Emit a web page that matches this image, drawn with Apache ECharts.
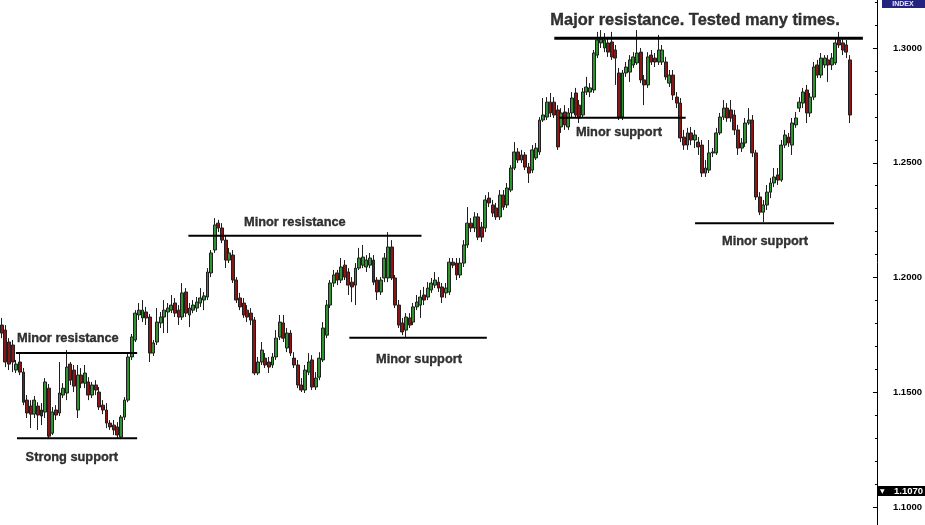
<!DOCTYPE html>
<html><head><meta charset="utf-8">
<script src="https://cdn.jsdelivr.net/npm/echarts@6/dist/echarts.min.js"></script>
<style>html,body{margin:0;padding:0;background:#fff}#c{width:925px;height:525px}</style>
</head><body><div id="c"></div>
<script>
const opens = [
1.1793,1.1771,1.1719,1.1706,1.1597,1.1632,1.1588,1.1466,1.1440,1.1405,
1.1440,1.1423,1.1414,1.1518,1.1322,1.1423,1.1410,1.1488,1.1497,1.1623,
1.1597,1.1423,1.1575,1.1540,1.1545,1.1488,1.1532,1.1501,1.1444,1.1423,
1.1366,1.1357,1.1349,1.1305,1.1392,1.1466,1.1654,1.1728,1.1837,1.1824,
1.1850,1.1828,1.1671,1.1719,1.1802,1.1828,1.1850,1.1858,1.1889,1.1858,
1.1828,1.1937,1.1837,1.1858,1.1867,1.1889,1.1902,1.1915,1.2020,1.2120,
1.2237,1.2216,1.2163,1.2076,1.2098,1.1989,1.1911,1.1889,1.1858,1.1845,
1.1815,1.1584,1.1632,1.1649,1.1632,1.1619,1.1654,1.1741,1.1802,1.1693,
1.1758,1.1649,1.1619,1.1532,1.1510,1.1588,1.1641,1.1523,1.1566,1.1641,
1.1749,1.1880,1.1976,1.2020,1.1989,1.2054,1.2024,1.1980,1.1967,1.2041,
1.2054,1.2046,1.2054,1.2076,1.1989,1.1937,1.1998,1.1998,1.2133,1.1998,
1.1880,1.1802,1.1771,1.1824,1.1806,1.1872,1.1880,1.1924,1.1915,1.1946,
1.1967,1.1980,1.1959,1.1933,1.1937,1.2067,1.2063,1.2011,1.2063,1.2142,
1.2237,1.2216,1.2264,1.2220,1.2216,1.2346,1.2316,1.2303,1.2264,1.2359,
1.2316,1.2381,1.2477,1.2547,1.2512,1.2534,1.2481,1.2468,1.2521,1.2547,
1.2686,1.2699,1.2764,1.2764,1.2730,1.2656,1.2721,1.2656,1.2717,1.2804,
1.2751,1.2708,1.2808,1.2808,1.2817,1.2969,1.3022,1.3000,1.3022,1.3026,
1.2991,1.2891,1.2699,1.2891,1.2895,1.2926,1.2935,1.2982,1.2861,1.2839,
1.2969,1.2956,1.2939,1.2939,1.2939,1.2847,1.2882,1.2786,1.2760,1.2612,
1.2577,1.2630,1.2599,1.2590,1.2577,1.2455,1.2468,1.2543,1.2543,1.2630,
1.2699,1.2738,1.2730,1.2708,1.2643,1.2564,1.2586,1.2673,1.2686,1.2543,
1.2351,1.2285,1.2316,1.2372,1.2412,1.2447,1.2425,1.2577,1.2612,1.2577,
1.2665,1.2738,1.2760,1.2817,1.2717,1.2786,1.2926,1.2882,1.2926,1.2948,
1.2926,1.2935,1.3035,1.3022,1.3013,1.2948];
const closes = [
1.1758,1.1632,1.1623,1.1632,1.1623,1.1588,1.1457,1.1410,1.1405,1.1466,
1.1401,1.1397,1.1545,1.1309,1.1414,1.1401,1.1497,1.1518,1.1610,1.1553,
1.1527,1.1575,1.1540,1.1584,1.1488,1.1532,1.1510,1.1436,1.1423,1.1366,
1.1349,1.1336,1.1314,1.1392,1.1466,1.1654,1.1741,1.1845,1.1858,1.1858,
1.1824,1.1671,1.1715,1.1806,1.1828,1.1858,1.1867,1.1880,1.1845,1.1828,
1.1933,1.1845,1.1867,1.1880,1.1893,1.1911,1.1920,1.2024,1.2107,1.2229,
1.2216,1.2163,1.2076,1.2107,1.1989,1.1902,1.1872,1.1837,1.1828,1.1815,
1.1584,1.1632,1.1684,1.1619,1.1610,1.1654,1.1736,1.1806,1.1736,1.1758,
1.1671,1.1619,1.1532,1.1510,1.1597,1.1632,1.1523,1.1562,1.1649,1.1780,
1.1880,1.1976,1.2011,1.1989,1.2046,1.2002,1.1967,1.1959,1.2041,1.2085,
1.2089,1.2076,1.2085,1.1980,1.1937,1.1989,1.2085,1.2133,1.1998,1.1880,
1.1793,1.1763,1.1828,1.1793,1.1872,1.1893,1.1915,1.1902,1.1954,1.1976,
1.1989,1.1954,1.1915,1.1954,1.2067,1.2054,1.2011,1.2063,1.2142,1.2237,
1.2216,1.2264,1.2176,1.2176,1.2338,1.2325,1.2281,1.2264,1.2359,1.2307,
1.2390,1.2477,1.2547,1.2512,1.2534,1.2481,1.2455,1.2556,1.2564,1.2686,
1.2708,1.2764,1.2717,1.2708,1.2569,1.2717,1.2665,1.2717,1.2782,1.2708,
1.2695,1.2808,1.2830,1.2826,1.2978,1.3035,1.3043,1.3035,1.2982,1.2961,
1.2956,1.2699,1.2891,1.2917,1.2948,1.2961,1.2978,1.2861,1.2839,1.2961,
1.2939,1.2939,1.2991,1.2991,1.2874,1.2882,1.2795,1.2760,1.2608,1.2577,
1.2630,1.2599,1.2621,1.2569,1.2455,1.2477,1.2543,1.2547,1.2630,1.2699,
1.2738,1.2695,1.2695,1.2643,1.2564,1.2586,1.2673,1.2686,1.2543,1.2351,
1.2285,1.2316,1.2372,1.2412,1.2438,1.2425,1.2577,1.2621,1.2586,1.2673,
1.2695,1.2764,1.2808,1.2717,1.2786,1.2917,1.2882,1.2956,1.2956,1.2926,
1.2956,1.3022,1.3013,1.2991,1.2982,1.2708];
const lows = [
1.1736,1.1610,1.1597,1.1588,1.1584,1.1575,1.1444,1.1388,1.1344,1.1388,
1.1336,1.1357,1.1388,1.1301,1.1314,1.1379,1.1397,1.1475,1.1466,1.1532,
1.1501,1.1388,1.1518,1.1518,1.1466,1.1475,1.1488,1.1423,1.1405,1.1344,
1.1336,1.1314,1.1301,1.1296,1.1379,1.1457,1.1641,1.1719,1.1815,1.1806,
1.1793,1.1632,1.1658,1.1706,1.1780,1.1758,1.1758,1.1845,1.1828,1.1793,
1.1815,1.1828,1.1784,1.1845,1.1850,1.1872,1.1858,1.1902,1.2002,1.2107,
1.2198,1.2150,1.2041,1.2063,1.1976,1.1889,1.1858,1.1824,1.1806,1.1793,
1.1575,1.1575,1.1619,1.1606,1.1584,1.1606,1.1641,1.1728,1.1719,1.1675,
1.1658,1.1606,1.1518,1.1501,1.1497,1.1575,1.1510,1.1510,1.1553,1.1632,
1.1736,1.1867,1.1959,1.1967,1.1976,1.1989,1.1924,1.1893,1.1880,1.2033,
1.2041,1.2024,1.2041,1.1967,1.1902,1.1924,1.1980,1.1980,1.1989,1.1867,
1.1780,1.1749,1.1741,1.1780,1.1793,1.1858,1.1824,1.1880,1.1902,1.1933,
1.1954,1.1937,1.1889,1.1911,1.1924,1.2041,1.1989,1.1998,1.2046,1.2129,
1.2198,1.2198,1.2163,1.2155,1.2198,1.2307,1.2264,1.2251,1.2251,1.2294,
1.2303,1.2372,1.2468,1.2499,1.2499,1.2468,1.2412,1.2455,1.2512,1.2534,
1.2678,1.2686,1.2699,1.2695,1.2556,1.2630,1.2643,1.2643,1.2699,1.2695,
1.2673,1.2695,1.2795,1.2786,1.2804,1.2956,1.3000,1.2982,1.2961,1.2948,
1.2839,1.2686,1.2686,1.2874,1.2852,1.2913,1.2926,1.2847,1.2751,1.2826,
1.2926,1.2917,1.2926,1.2926,1.2861,1.2830,1.2773,1.2738,1.2590,1.2556,
1.2556,1.2577,1.2564,1.2534,1.2438,1.2438,1.2455,1.2525,1.2534,1.2621,
1.2686,1.2678,1.2678,1.2621,1.2534,1.2547,1.2569,1.2665,1.2525,1.2338,
1.2272,1.2242,1.2294,1.2346,1.2394,1.2403,1.2417,1.2564,1.2569,1.2534,
1.2652,1.2721,1.2738,1.2673,1.2699,1.2773,1.2869,1.2869,1.2913,1.2852,
1.2904,1.2926,1.3000,1.2969,1.2956,1.2673];
const highs = [
1.1824,1.1793,1.1736,1.1728,1.1641,1.1671,1.1606,1.1488,1.1466,1.1484,
1.1457,1.1453,1.1562,1.1536,1.1436,1.1444,1.1632,1.1540,1.1684,1.1632,
1.1619,1.1619,1.1606,1.1619,1.1566,1.1545,1.1553,1.1523,1.1466,1.1453,
1.1379,1.1379,1.1370,1.1401,1.1479,1.1671,1.1754,1.1858,1.1889,1.1902,
1.1872,1.1841,1.1728,1.1867,1.1850,1.1902,1.1889,1.1924,1.1911,1.1880,
1.1976,1.1954,1.1889,1.1902,1.1915,1.1954,1.1937,1.2041,1.2120,1.2259,
1.2251,1.2237,1.2185,1.2129,1.2120,1.2002,1.1933,1.1911,1.1880,1.1867,
1.1828,1.1654,1.1719,1.1671,1.1654,1.1671,1.1771,1.1837,1.1837,1.1780,
1.1771,1.1675,1.1641,1.1562,1.1619,1.1671,1.1662,1.1588,1.1675,1.1806,
1.1902,1.1989,1.2033,1.2033,1.2085,1.2076,1.2041,1.2002,1.2063,1.2129,
1.2142,1.2098,1.2107,1.2098,1.2002,1.2002,1.2107,1.2198,1.2163,1.2011,
1.1902,1.1824,1.1845,1.1845,1.1889,1.1924,1.1946,1.1959,1.1980,1.1998,
1.2024,1.2002,1.1976,1.1976,1.2085,1.2085,1.2085,1.2085,1.2163,1.2307,
1.2259,1.2285,1.2281,1.2242,1.2359,1.2372,1.2338,1.2325,1.2381,1.2381,
1.2412,1.2490,1.2590,1.2564,1.2556,1.2547,1.2499,1.2577,1.2586,1.2699,
1.2782,1.2786,1.2804,1.2786,1.2751,1.2738,1.2751,1.2738,1.2808,1.2826,
1.2773,1.2826,1.2874,1.2847,1.2991,1.3070,1.3078,1.3065,1.3043,1.3070,
1.3013,1.2913,1.2904,1.2939,1.2969,1.2982,1.3078,1.3000,1.2882,1.2982,
1.2991,1.2978,1.3057,1.3013,1.2961,1.2904,1.2904,1.2808,1.2782,1.2643,
1.2652,1.2656,1.2643,1.2612,1.2599,1.2512,1.2599,1.2564,1.2652,1.2717,
1.2773,1.2760,1.2773,1.2730,1.2665,1.2608,1.2695,1.2738,1.2708,1.2556,
1.2372,1.2338,1.2403,1.2434,1.2477,1.2477,1.2599,1.2643,1.2630,1.2695,
1.2721,1.2786,1.2826,1.2839,1.2804,1.2939,1.2948,1.2978,1.2969,1.2969,
1.2978,1.3043,1.3070,1.3043,1.3035,1.2969];

const slotCount = 243;
const yMin = 1.0922, yMax = 1.3209;
const majorTicks = [1.10, 1.15, 1.20, 1.25, 1.30];
const minorTicks = [1.10,1.11,1.12,1.13,1.14,1.15,1.16,1.17,1.18,1.19,1.20,1.21,1.22,1.23,1.24,1.25,1.26,1.27,1.28,1.29,1.30,1.31,1.32];
const lastPrice = 1.1070;

// support / resistance levels (price, from slot, to slot)
const levelPrices = [1.1671, 1.1300, 1.2182, 1.1738, 1.3042, 1.2696, 1.2236];
const levelFrom   = [3.9, 4.2, 51.7, 96.3, 153.1, 154.4, 192.1];
const levelTo     = [37.5, 37.5, 116.3, 134.4, 238.6, 189.5, 230.6];
const levelMajor  = [false, false, false, false, true, false, false];

// annotation texts (centre slot, centre price)
const noteTexts = ['Minor resistance', 'Strong support', 'Minor resistance', 'Minor support',
                   'Major resistance. Tested many times.', 'Minor support', 'Minor support'];
const noteX     = [18.3, 19.4, 81.2, 115.6, 192.1, 171.0, 211.5];
const notePrice = [1.1733, 1.1218, 1.2240, 1.1645, 1.3118, 1.2630, 1.2155];

const categories = [];
for (let i = 0; i < slotCount; i++) categories.push(String(i));
const candleData = opens.map((o, i) => [o, closes[i], lows[i], highs[i]]);

const chart = echarts.init(document.getElementById('c'), null, {renderer: 'canvas'});
const series = [{
  type: 'candlestick', xAxisIndex: 0, yAxisIndex: 0,
  data: candleData, barWidth: 3.4,
  itemStyle: {color: '#2f942f', color0: '#8a1616', borderColor: '#1f1f1f', borderColor0: '#1f1f1f', borderWidth: 1},
  silent: true
}];
levelPrices.forEach((p, k) => {
  series.push({
    type: 'line', xAxisIndex: 1, yAxisIndex: 0, symbol: 'none', silent: true,
    data: [[levelFrom[k], p], [levelTo[k], p]],
    lineStyle: {color: '#000', width: levelMajor[k] ? 3 : 2}, z: 5
  });
});
series.push({
  type: 'scatter', xAxisIndex: 1, yAxisIndex: 0, symbolSize: 0, silent: true, z: 6,
  data: noteX.map((x, i) => ({
    value: [x, notePrice[i]],
    label: {formatter: noteTexts[i], fontSize: i === 4 ? 16.4 : 12.8, color: '#000'}
  })),
  label: {show: true, position: 'inside', color: '#000', fontWeight: 'bold',
          textBorderColor: '#000', textBorderWidth: 0.35,
          fontFamily: 'Liberation Sans, Arial, sans-serif'}
});

chart.setOption({
  animation: false,
  backgroundColor: '#fff',
  grid: {left: 0, right: 48, top: 0, bottom: 0, containLabel: false},
  xAxis: [
    {type: 'category', data: categories, boundaryGap: true, show: false},
    {type: 'value', min: -0.5, max: slotCount - 0.5, show: false}
  ],
  yAxis: [
    {type: 'value', position: 'right', min: yMin, max: yMax, scale: true,
     axisLine: {show: true, onZero: false, lineStyle: {color: '#000', width: 1}},
     axisTick: {show: true, inside: true, length: 4, customValues: majorTicks, lineStyle: {color: '#000'}},
     axisLabel: {show: true, customValues: majorTicks, margin: 16, color: '#000', fontWeight: 'bold',
                 fontSize: 9.5, fontFamily: 'Liberation Sans Narrow, Liberation Sans, Arial',
                 formatter: v => v.toFixed(4)},
     splitLine: {show: false}},
    {type: 'value', position: 'right', min: yMin, max: yMax, scale: true,
     axisLine: {show: false, onZero: false},
     axisTick: {show: true, inside: true, length: 2, customValues: minorTicks, lineStyle: {color: '#000'}},
     axisLabel: {show: false}, splitLine: {show: false}}
  ],
  series: series
});

const axisX = 925 - 48;
const yLast = chart.convertToPixel({yAxisIndex: 0}, lastPrice);
chart.setOption({
  graphic: [
    {type: 'rect', shape: {x: axisX, y: yLast - 5, width: 48, height: 10}, style: {fill: '#000'}, z: 10},
    {type: 'text', x: axisX + 3, y: yLast, z: 11,
     style: {text: '▼', fill: '#fff', font: 'bold 6px DejaVu Sans', verticalAlign: 'middle'}},
    {type: 'text', x: axisX + 17, y: yLast, z: 11,
     style: {text: lastPrice.toFixed(4), fill: '#fff', font: 'bold 9.5px Liberation Sans Narrow, Liberation Sans', verticalAlign: 'middle'}},
    {type: 'rect', shape: {x: axisX + 5, y: 0, width: 48 - 5, height: 8}, style: {fill: '#24247f'}, z: 10},
    {type: 'text', x: axisX + 26, y: 4, z: 11,
     style: {text: 'INDEX', fill: '#e8e8ff', font: 'bold 7px Liberation Sans', align: 'center', verticalAlign: 'middle'}}
  ]
});
</script>
</body></html>
